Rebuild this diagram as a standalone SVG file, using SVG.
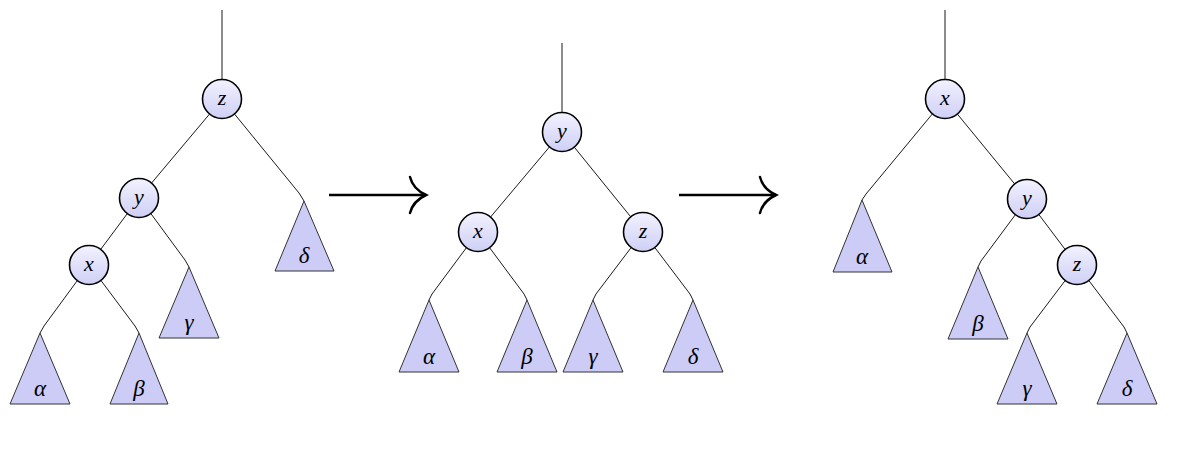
<svg xmlns="http://www.w3.org/2000/svg" width="1184" height="452" viewBox="0 0 1184 452">
<style>
.e{fill:none;stroke:#000;stroke-width:0.9}
.n circle{fill:url(#g);stroke:#000;stroke-width:1.6}
.t polygon{fill:#ccccf7;stroke:#333;stroke-width:1}
.arr{fill:none;stroke:#000;stroke-width:2.5}
</style>
<defs>
<linearGradient id="g" x1="0" y1="0" x2="0" y2="1">
<stop offset="0" stop-color="#f2f2ff"/>
<stop offset="1" stop-color="#cfcff6"/>
</linearGradient>
<marker id="ah" markerUnits="userSpaceOnUse" markerWidth="32" markerHeight="42" refX="26" refY="20" orient="auto" overflow="visible">
<path d="M10,2 Q13,14 26,20 Q13,26 10,38" fill="none" stroke="#000" stroke-width="2.5" stroke-linecap="round"/>
</marker>
</defs>

<g id="connectors">
<line class="e" x1="222" y1="10" x2="222" y2="79.5"/>
<line class="e" x1="209.5" y1="114.1" x2="151.5" y2="183.1"/>
<polyline class="e" points="234.5,114 299,193 304,201"/>
<line class="e" x1="127.3" y1="213.6" x2="100.7" y2="249.4"/>
<polyline class="e" points="150.8,213.5 185,260 189,267"/>
<polyline class="e" points="77.3,280.6 44,326 40,333"/>
<polyline class="e" points="100.9,280.4 135,326 139,333"/>
<line class="e" x1="562" y1="43" x2="562" y2="112.5"/>
<line class="e" x1="549.5" y1="146.9" x2="490.5" y2="217.1"/>
<line class="e" x1="574.3" y1="147.2" x2="630.7" y2="216.8"/>
<polyline class="e" points="466.4,247.7 432,294 429,300"/>
<polyline class="e" points="489.6,247.7 524,294 527,300"/>
<polyline class="e" points="631.2,247.5 596,294 593,300"/>
<polyline class="e" points="654.8,247.5 690,294 693,300"/>
<line class="e" x1="945" y1="10" x2="945" y2="79.5"/>
<polyline class="e" points="932.4,113.9 866,194 862,200"/>
<line class="e" x1="957.4" y1="114.1" x2="1014.6" y2="183.9"/>
<polyline class="e" points="1015.4,214.7 981,261 978,267"/>
<line class="e" x1="1038.8" y1="214.5" x2="1065.2" y2="249.5"/>
<polyline class="e" points="1065.2,280.5 1030,327 1027,333"/>
<polyline class="e" points="1088.8,280.5 1124,327 1127,333"/>
<line class="arr" x1="329" y1="195" x2="426" y2="195" marker-end="url(#ah)"/>
<line class="arr" x1="679" y1="195" x2="776" y2="195" marker-end="url(#ah)"/>
</g>

<g font-family="Liberation Serif, serif" font-style="italic" text-anchor="middle" fill="#000">
<g font-size="22">
<g id="t1-z" class="n"><circle cx="222" cy="99" r="19.5"/><text x="222" y="105">z</text></g>
<g id="t1-y" class="n"><circle cx="139" cy="198" r="19.5"/><text x="139" y="204">y</text></g>
<g id="t1-x" class="n"><circle cx="89" cy="265" r="19.5"/><text x="89" y="271">x</text></g>
<g id="t2-y" class="n"><circle cx="562" cy="132" r="19.5"/><text x="562" y="138">y</text></g>
<g id="t2-x" class="n"><circle cx="478" cy="232" r="19.5"/><text x="478" y="238">x</text></g>
<g id="t2-z" class="n"><circle cx="643" cy="232" r="19.5"/><text x="643" y="238">z</text></g>
<g id="t3-x" class="n"><circle cx="945" cy="99" r="19.5"/><text x="945" y="105">x</text></g>
<g id="t3-y" class="n"><circle cx="1027" cy="199" r="19.5"/><text x="1027" y="205">y</text></g>
<g id="t3-z" class="n"><circle cx="1077" cy="265" r="19.5"/><text x="1077" y="271">z</text></g>
</g>
<g font-size="23">
<g id="t1-alpha" class="t"><polygon points="40,333 10,404 70,404"/><text x="40" y="396">α</text></g>
<g id="t1-beta" class="t"><polygon points="139,333 110,404 168,404"/><text x="139" y="396">β</text></g>
<g id="t1-gamma" class="t"><polygon points="189,267 159,338 219,338"/><text x="189" y="330">γ</text></g>
<g id="t1-delta" class="t"><polygon points="304,201 275,271 334,271"/><text x="304" y="263">δ</text></g>
<g id="t2-alpha" class="t"><polygon points="429,300 399,372 459,372"/><text x="429" y="364">α</text></g>
<g id="t2-beta" class="t"><polygon points="527,300 497,372 557,372"/><text x="527" y="364">β</text></g>
<g id="t2-gamma" class="t"><polygon points="593,300 563,372 623,372"/><text x="593" y="364">γ</text></g>
<g id="t2-delta" class="t"><polygon points="693,300 663,372 723,372"/><text x="693" y="364">δ</text></g>
<g id="t3-alpha" class="t"><polygon points="862,200 833,272 892,272"/><text x="862" y="264">α</text></g>
<g id="t3-beta" class="t"><polygon points="978,267 948,339 1008,339"/><text x="978" y="331">β</text></g>
<g id="t3-gamma" class="t"><polygon points="1027,333 997,404 1057,404"/><text x="1027" y="396">γ</text></g>
<g id="t3-delta" class="t"><polygon points="1127,333 1097,404 1157,404"/><text x="1127" y="396">δ</text></g>
</g>
</g>
</svg>
